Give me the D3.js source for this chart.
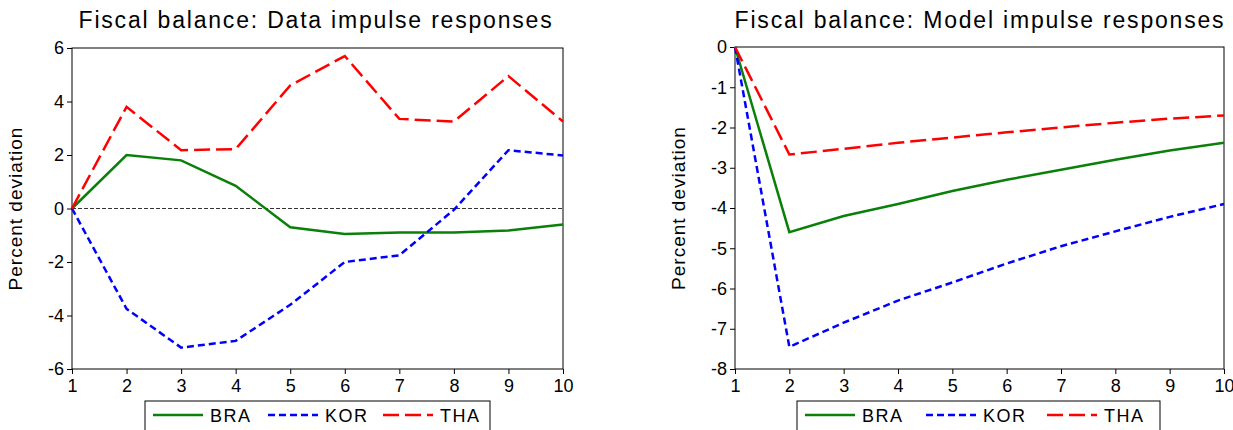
<!DOCTYPE html>
<html><head><meta charset="utf-8">
<script src="https://cdn.jsdelivr.net/npm/d3@7"></script>
<style>body{margin:0;background:#fff}svg{font-family:Arial,"Liberation Sans",sans-serif}</style>
</head><body><svg id="c" width="1233" height="430"></svg>
<script>
var periods = [1,2,3,4,5,6,7,8,9,10];
var seriesNames = ["BRA","KOR","THA"];
var dataBRA = [0,2.0,1.8,0.85,-0.7,-0.95,-0.9,-0.9,-0.82,-0.6];
var dataKOR = [0,-3.75,-5.2,-4.95,-3.6,-2.0,-1.75,-0.05,2.18,1.98];
var dataTHA = [0,3.8,2.18,2.22,4.6,5.7,3.35,3.25,4.95,3.25];
var modelBRA = [0,-4.6,-4.2,-3.9,-3.58,-3.3,-3.05,-2.8,-2.57,-2.38];
var modelKOR = [0,-7.45,-6.85,-6.3,-5.85,-5.38,-4.95,-4.58,-4.22,-3.9];
var modelTHA = [0,-2.67,-2.53,-2.38,-2.25,-2.12,-2.0,-1.88,-1.78,-1.7];
var leftTicks = [-6,-4,-2,0,2,4,6];
var rightTicks = [0,-1,-2,-3,-4,-5,-6,-7,-8];

var styles = {
  BRA: {color:"#0a800a", dash:null},
  KOR: {color:"#0000ff", dash:"7,4"},
  THA: {color:"#ff0000", dash:"16,6"}
};

var svg = d3.select("#c");

function panel(opts) {
  var g = svg.append("g");
  var x = d3.scaleLinear().domain([1,10]).range([opts.x0, opts.x1]);
  var y = d3.scaleLinear().domain(opts.yDomain).range([opts.y1, opts.y0]);

  g.append("text").attr("x",opts.tx).attr("y",28)
    .attr("text-anchor","middle").style("font-size","23px").attr("letter-spacing","1.8px")
    .text(opts.title);

  g.append("rect").attr("x",opts.x0).attr("y",opts.y0)
    .attr("width",opts.x1-opts.x0).attr("height",opts.y1-opts.y0)
    .attr("fill","none").attr("stroke","#000").attr("stroke-width",1);

  var ya = g.append("g").attr("transform","translate("+opts.x0+",0)")
    .call(d3.axisLeft(y).tickValues(opts.ticks).tickSize(5).tickFormat(function(d){return String(d);}));
  var xa = g.append("g").attr("transform","translate(0,"+opts.y1+")")
    .call(d3.axisBottom(x).tickValues(periods).tickSize(5).tickFormat(function(d){return String(d);}));
  [ya,xa].forEach(function(a){
    a.select(".domain").remove();
    a.attr("font-size",null);
    a.selectAll("text").style("font-size","18px").attr("fill","#000")
      .attr("font-family","Arial,'Liberation Sans',sans-serif");
  });
  xa.selectAll("text").attr("dy","0.85em");

  g.append("text").attr("transform","translate("+(opts.x0-50)+","+((opts.y0+opts.y1)/2)+") rotate(-90)")
    .attr("text-anchor","middle").style("font-size","19px").attr("letter-spacing","1px").text("Percent deviation");

  if (opts.zeroLine) {
    g.append("line").attr("x1",opts.x0).attr("x2",opts.x1)
      .attr("y1",y(0)).attr("y2",y(0))
      .attr("stroke","#000").attr("stroke-width",0.8).attr("stroke-dasharray","4,2");
  }

  var line = d3.line().x(function(d,i){return x(periods[i]);}).y(function(d){return y(d);});
  seriesNames.forEach(function(n,i){
    g.append("path").datum(opts.series[i]).attr("d",line)
      .attr("fill","none").attr("stroke",styles[n].color).attr("stroke-width",2.5)
      .attr("stroke-dasharray",styles[n].dash);
  });

  var lg = g.append("g");
  lg.append("rect").attr("x",opts.lx).attr("y",401).attr("width",opts.lw).attr("height",40)
    .attr("fill","#fff").attr("stroke","#000");
  var step = opts.lw/3;
  seriesNames.forEach(function(n,i){
    var bx = opts.lx + 8 + i*step;
    lg.append("line").attr("x1",bx).attr("x2",bx+50).attr("y1",415).attr("y2",415)
      .attr("stroke",styles[n].color).attr("stroke-width",2.5).attr("stroke-dasharray",styles[n].dash);
    lg.append("text").attr("x",bx+57).attr("y",422).style("font-size","18px")
      .attr("letter-spacing","1.5px").text(n);
  });
}

panel({title:"Fiscal balance: Data impulse responses", tx:316, x0:72, x1:563, y0:48, y1:369,
  yDomain:[-6,6], ticks:leftTicks, zeroLine:true, series:[dataBRA,dataKOR,dataTHA], lx:145, lw:345});
panel({title:"Fiscal balance: Model impulse responses", tx:980, x0:735, x1:1224, y0:47, y1:369,
  yDomain:[-8,0], ticks:rightTicks, zeroLine:false, series:[modelBRA,modelKOR,modelTHA], lx:797, lw:363});
</script></body></html>
